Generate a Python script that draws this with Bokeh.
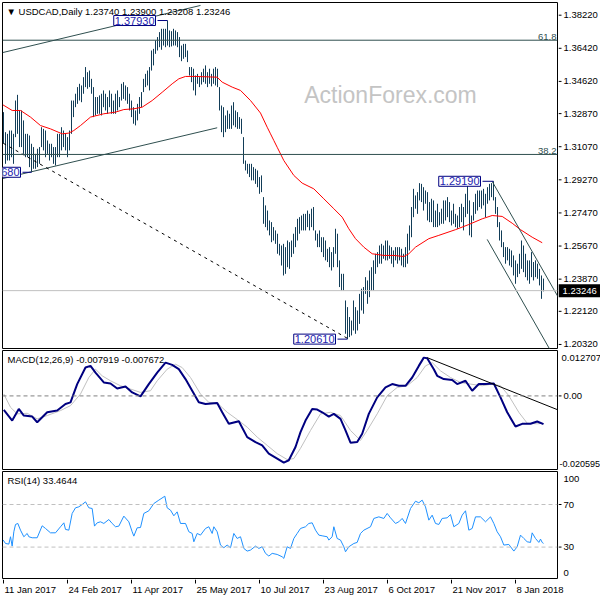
import pandas as pd
from bokeh.plotting import figure
from bokeh.layouts import column, row
from bokeh.models import Range1d, Span, Label, ColumnDataSource
from bokeh.core.properties import value
from bokeh.embed import file_html
from bokeh.resources import INLINE

# ---------------- data ----------------
header_text = "\u25bc USDCAD,Daily  1.23740 1.23900 1.23208 1.23246"
macd_text = "MACD(12,26,9) -0.007919 -0.007672"
rsi_text = "RSI(14) 33.4644"
last_close = 1.23246

bar_high = [
    1.3295, 1.3186, 1.3177, 1.3195, 1.3195, 1.3177, 1.3358, 1.3389, 1.3304, 1.3304,
    1.3250, 1.3177, 1.3177, 1.3168, 1.3123, 1.3105, 1.3068, 1.3096, 1.3105, 1.3213,
    1.3204, 1.3195, 1.3141, 1.3123, 1.3123, 1.3105, 1.3105, 1.3177, 1.3177, 1.3213,
    1.3195, 1.3177, 1.3159, 1.3195, 1.3358, 1.3358, 1.3395, 1.3431, 1.3449, 1.3440,
    1.3485, 1.3540, 1.3512, 1.3521, 1.3476, 1.3431, 1.3377, 1.3377, 1.3386, 1.3395,
    1.3413, 1.3395, 1.3377, 1.3413, 1.3395, 1.3358, 1.3395, 1.3413, 1.3377, 1.3449,
    1.3458, 1.3440, 1.3431, 1.3395, 1.3358, 1.3322, 1.3304, 1.3340, 1.3377, 1.3404,
    1.3476, 1.3503, 1.3521, 1.3540, 1.3630, 1.3639, 1.3685, 1.3703, 1.3730, 1.3748,
    1.3748, 1.3748, 1.3793, 1.3739, 1.3735, 1.3748, 1.3739, 1.3730, 1.3703, 1.3657,
    1.3666, 1.3666, 1.3630, 1.3540, 1.3540, 1.3531, 1.3494, 1.3503, 1.3485, 1.3512,
    1.3531, 1.3549, 1.3512, 1.3531, 1.3503, 1.3531, 1.3540, 1.3531, 1.3431, 1.3331,
    1.3322, 1.3277, 1.3304, 1.3286, 1.3331, 1.3349, 1.3304, 1.3295, 1.3268, 1.3259,
    1.3159, 1.3032, 1.3014, 1.3014, 1.3014, 1.2996, 1.2987, 1.2978, 1.2942, 1.2951,
    1.2833, 1.2788, 1.2760, 1.2706, 1.2697, 1.2670, 1.2652, 1.2634, 1.2579, 1.2570,
    1.2579, 1.2561, 1.2597, 1.2588, 1.2597, 1.2634, 1.2670, 1.2715, 1.2724, 1.2733,
    1.2742, 1.2742, 1.2760, 1.2742, 1.2770, 1.2779, 1.2652, 1.2634, 1.2652, 1.2615,
    1.2615, 1.2597, 1.2552, 1.2561, 1.2534, 1.2561, 1.2661, 1.2634, 1.2489, 1.2416,
    1.2416, 1.2271, 1.2235, 1.2181, 1.2162, 1.2271, 1.2235, 1.2217, 1.2307, 1.2335,
    1.2344, 1.2398, 1.2380, 1.2434, 1.2452, 1.2489, 1.2525, 1.2534, 1.2570, 1.2579,
    1.2570, 1.2597, 1.2597, 1.2570, 1.2561, 1.2543, 1.2561, 1.2561, 1.2561, 1.2552,
    1.2525, 1.2561, 1.2634, 1.2679, 1.2779, 1.2878, 1.2842, 1.2860, 1.2909, 1.2905,
    1.2887, 1.2869, 1.2860, 1.2806, 1.2824, 1.2815, 1.2760, 1.2797, 1.2751, 1.2770,
    1.2815, 1.2815, 1.2833, 1.2806, 1.2760, 1.2797, 1.2742, 1.2733, 1.2779, 1.2797,
    1.2779, 1.2851, 1.2909, 1.2815, 1.2733, 1.2806, 1.2851, 1.2869, 1.2869, 1.2869,
    1.2878, 1.2851, 1.2887, 1.2905, 1.2909, 1.2919, 1.2833, 1.2779, 1.2697, 1.2652,
    1.2588, 1.2561, 1.2561, 1.2552, 1.2543, 1.2516, 1.2489, 1.2471, 1.2525, 1.2597,
    1.2570, 1.2525, 1.2489, 1.2489, 1.2534, 1.2480, 1.2489, 1.2471, 1.2443, 1.2407,
    1.2390,
]
bar_low = [
    1.3123, 1.3014, 1.3032, 1.3032, 1.3050, 1.3014, 1.3159, 1.3177, 1.3105, 1.3105,
    1.3068, 1.3050, 1.3050, 1.2996, 1.2968, 1.2987, 1.2987, 1.2996, 1.3014, 1.3105,
    1.3087, 1.3050, 1.3068, 1.3032, 1.3050, 1.3014, 1.3005, 1.3050, 1.3050, 1.3087,
    1.3105, 1.3087, 1.3050, 1.3087, 1.3177, 1.3268, 1.3322, 1.3340, 1.3358, 1.3349,
    1.3395, 1.3431, 1.3422, 1.3431, 1.3395, 1.3268, 1.3277, 1.3286, 1.3286, 1.3277,
    1.3322, 1.3304, 1.3286, 1.3322, 1.3286, 1.3286, 1.3286, 1.3304, 1.3322, 1.3358,
    1.3367, 1.3358, 1.3340, 1.3304, 1.3268, 1.3232, 1.3223, 1.3250, 1.3286, 1.3322,
    1.3404, 1.3431, 1.3440, 1.3413, 1.3521, 1.3549, 1.3612, 1.3630, 1.3648, 1.3634,
    1.3657, 1.3648, 1.3657, 1.3648, 1.3652, 1.3657, 1.3657, 1.3648, 1.3594, 1.3572,
    1.3585, 1.3594, 1.3567, 1.3494, 1.3458, 1.3413, 1.3386, 1.3449, 1.3431, 1.3445,
    1.3458, 1.3449, 1.3431, 1.3449, 1.3435, 1.3449, 1.3440, 1.3431, 1.3304, 1.3186,
    1.3159, 1.3186, 1.3204, 1.3204, 1.3204, 1.3223, 1.3213, 1.3204, 1.3204, 1.3177,
    1.3014, 1.2978, 1.2960, 1.2942, 1.2924, 1.2924, 1.2905, 1.2887, 1.2851, 1.2860,
    1.2688, 1.2670, 1.2652, 1.2625, 1.2588, 1.2597, 1.2579, 1.2525, 1.2516, 1.2461,
    1.2407, 1.2416, 1.2452, 1.2443, 1.2507, 1.2525, 1.2561, 1.2597, 1.2634, 1.2652,
    1.2652, 1.2652, 1.2670, 1.2652, 1.2670, 1.2652, 1.2597, 1.2561, 1.2561, 1.2534,
    1.2507, 1.2489, 1.2480, 1.2452, 1.2434, 1.2452, 1.2525, 1.2452, 1.2344, 1.2326,
    1.2326, 1.2090, 1.2061, 1.2072, 1.2081, 1.2108, 1.2090, 1.2108, 1.2144, 1.2217,
    1.2199, 1.2307, 1.2253, 1.2289, 1.2326, 1.2326, 1.2416, 1.2452, 1.2471, 1.2471,
    1.2498, 1.2489, 1.2489, 1.2498, 1.2471, 1.2452, 1.2489, 1.2471, 1.2489, 1.2461,
    1.2452, 1.2452, 1.2471, 1.2543, 1.2615, 1.2724, 1.2770, 1.2742, 1.2815, 1.2806,
    1.2760, 1.2797, 1.2706, 1.2697, 1.2697, 1.2670, 1.2670, 1.2670, 1.2679, 1.2688,
    1.2688, 1.2706, 1.2724, 1.2697, 1.2679, 1.2688, 1.2670, 1.2661, 1.2670, 1.2697,
    1.2652, 1.2724, 1.2742, 1.2625, 1.2615, 1.2706, 1.2742, 1.2760, 1.2779, 1.2770,
    1.2788, 1.2724, 1.2797, 1.2815, 1.2833, 1.2815, 1.2742, 1.2670, 1.2597, 1.2561,
    1.2507, 1.2471, 1.2489, 1.2461, 1.2452, 1.2407, 1.2362, 1.2398, 1.2416, 1.2443,
    1.2425, 1.2398, 1.2380, 1.2362, 1.2398, 1.2380, 1.2398, 1.2389, 1.2353, 1.2280,
    1.23208,
]

# moving average (red line), read at bar positions
ma_x = [-0.35, 4.35, 8.5, 13.5, 18.5, 23.5, 29.35, 32.65, 35.15, 38.5, 43.5, 50.15,
        56, 60.15, 65.15, 69.35, 74.35, 79.35, 84.35, 87.65, 91, 96, 106.85, 109.35,
        114.35, 118.5, 123.5, 128.5, 131.85, 133.5, 135.15, 136.85, 140.15, 145.15,
        149.35, 155.15, 160.15, 165.15, 169.35, 172.65, 176, 180.15, 184.35, 190.15,
        195.15, 200.15, 202.65, 206, 212.65, 217.65, 226, 232.65, 239.35, 244.35,
        249.35, 254.35, 258.5, 264.35, 269.35]
ma_v = [1.3335, 1.3304, 1.3304, 1.3268, 1.3222, 1.3204, 1.3177, 1.3181, 1.3195, 1.3222,
        1.3268, 1.3286, 1.3295, 1.3309, 1.3313, 1.3322, 1.3358, 1.3403, 1.3449, 1.3476,
        1.3489, 1.3489, 1.3485, 1.3458, 1.3431, 1.3413, 1.3358, 1.3290, 1.3213, 1.3177,
        1.3141, 1.3104, 1.3032, 1.2951, 1.2909, 1.2878, 1.2824, 1.2770, 1.2724, 1.2661,
        1.2607, 1.2561, 1.2525, 1.2516, 1.2516, 1.2510, 1.2525, 1.2561, 1.2607, 1.2625,
        1.2656, 1.2684, 1.2715, 1.2733, 1.2728, 1.2691, 1.2656, 1.2615, 1.2585]

macd_x = [0.15, 4.35, 7.65, 10.15, 14.35, 16.85, 19.35, 21.85, 26.85, 31, 33.5, 36.85,
          41, 43.5, 46, 50.15, 53.5, 56.85, 61, 64.35, 68.5, 72.65, 76.85, 81, 84.35,
          87.65, 91, 94.35, 97.65, 101, 106.85, 109.35, 112.65, 117.65, 121.85, 126,
          129.35, 132.65, 136.85, 140.15, 142.65, 146, 148.5, 151, 154.35, 156.85,
          159.35, 162.65, 165.15, 168.5, 171, 173.5, 176.85, 179.35, 182.65, 186.85,
          191, 194.35, 197.65, 201, 204.35, 207.65, 210.15, 211.85, 215.15, 216.85,
          220.15, 224.35, 226.85, 231, 234.35, 237.65, 241, 245.15, 248.5, 251.85,
          256, 259.35, 263.5, 266.85, 270]
macd_v = [-0.00392, -0.00689, -0.00364, -0.0055, -0.00578, -0.00737, -0.00597, -0.00458,
          -0.00411, -0.00225, -0.0018, 0.00331, 0.00793, 0.0084, 0.00654, 0.00376,
          0.00348, 0.00209, 0.00265, 0.00098, -0.00013, 0.00331, 0.00654, 0.00932,
          0.00868, 0.00748, 0.0047, 0.00145, -0.0018, -0.00225, -0.00197, -0.00458,
          -0.00781, -0.00708, -0.01153, -0.01292, -0.01384, -0.01615, -0.01754,
          -0.01865, -0.01801, -0.01431, -0.01014, -0.00689, -0.00364, -0.00383,
          -0.00458, -0.00578, -0.00503, -0.00642, -0.00967, -0.01309, -0.01292,
          -0.01059, -0.00503, -0.00041, 0.00237, 0.00331, 0.00284, 0.00284, 0.00515,
          0.0084, 0.01071, 0.01054, 0.00748, 0.00562, 0.0047, 0.00443, 0.00331,
          0.00423, 0.00145, 0.00331, 0.00331, 0.00348, -0.00041, -0.00458, -0.00856,
          -0.00781, -0.00781, -0.00717, -0.007919]

signal_x = [0.15, 3.5, 6.85, 11.85, 16.85, 21.85, 28.5, 33.5, 38.5, 42.65, 46, 49.35,
            53.5, 58.5, 63.5, 68.5, 73.5, 76.85, 81.85, 86, 89.35, 93.5, 98.5, 102.65,
            106.85, 111.85, 116.85, 121.85, 126.85, 131.85, 136.85, 141.85, 145.15,
            148.5, 153.5, 158.5, 163.5, 168.5, 173.5, 178.5, 181.85, 186.85, 191.85,
            196.85, 201.85, 206.85, 211, 214.35, 218.5, 223.5, 228.5, 233.5, 239.35,
            244.35, 248.5, 252.65, 257.65, 261.85, 266.85, 270]
signal_v = [0.00053, -0.00319, -0.00503, -0.00486, -0.00642, -0.0055, -0.00411, -0.00272,
            0.00053, 0.00515, 0.00748, 0.00562, 0.00423, 0.00284, 0.00192, 0.00098,
            0.00145, 0.00423, 0.00748, 0.00887, 0.00793, 0.00515, 0.00053, -0.0018,
            -0.00197, -0.00458, -0.00661, -0.00875, -0.01153, -0.01384, -0.01615,
            -0.01781, -0.01754, -0.01467, -0.00967, -0.00503, -0.00458, -0.0055,
            -0.00967, -0.01245, -0.00967, -0.00503, 0.00006, 0.00237, 0.00284, 0.00515,
            0.0084, 0.00932, 0.00701, 0.00515, 0.00376, 0.00331, 0.00284, 0.00331,
            0.00284, 0.00006, -0.00458, -0.00764, -0.00781, -0.007672]

rsi_x = [-0.17, 1.0, 2.67, 3.5, 4.33, 5.17, 6.0, 7.17, 8.5, 10.17, 11.83, 12.67, 14.33,
         16.83, 19.33, 21.0, 23.5, 26.0, 28.5, 30.17, 31.0, 32.67, 34.33, 36.0, 37.67,
         39.33, 41.0, 42.67, 44.33, 45.5, 46.83, 48.5, 50.17, 52.67, 54.33, 56.0, 57.67,
         60.17, 62.67, 64.33, 65.17, 66.83, 68.5, 70.17, 72.67, 75.17, 77.67, 80.67,
         81.83, 83.5, 85.17, 86.83, 88.5, 91.0, 92.67, 94.33, 95.17, 96.83, 98.5, 101.0,
         102.67, 104.33, 105.17, 106.83, 108.5, 110.17, 111.83, 113.5, 115.17, 116.83,
         118.5, 120.17, 121.83, 123.5, 126.0, 127.67, 129.33, 131.0, 132.67, 134.33,
         136.83, 139.33, 140.17, 141.83, 143.5, 145.17, 146.83, 148.5, 151.0, 152.67,
         154.33, 156.0, 157.67, 159.33, 161.83, 162.67, 164.33, 165.17, 166.83, 168.5,
         170.17, 171.0, 172.67, 175.17, 176.83, 178.5, 180.17, 183.5, 185.17, 187.67,
         190.17, 191.83, 193.5, 196.0, 197.67, 199.33, 201.0, 203.5, 206.0, 207.67,
         209.33, 211.0, 212.67, 214.33, 216.0, 217.67, 219.33, 221.83, 223.5, 225.17,
         227.67, 229.33, 231.0, 232.67, 234.33, 236.0, 238.5, 241.0, 243.5, 245.17,
         246.83, 248.5, 250.17, 252.67, 255.17, 256.83, 258.5, 260.17, 261.83, 263.5,
         264.33, 266.0, 267.67, 268.5, 269.33, 270]
rsi_v = [36.6, 33.4, 32.8, 39.7, 30.9, 44.4, 51.25, 52.2, 45.9, 39.7, 42.8, 39.7, 38.75,
         38.75, 50.0, 47.5, 43.4, 43.4, 49.1, 52.8, 46.6, 45.9, 61.6, 66.9, 67.8, 70.0,
         72.5, 66.9, 66.25, 49.7, 52.8, 53.75, 52.2, 55.9, 52.2, 49.1, 49.7, 59.1, 53.75,
         44.4, 40.3, 48.1, 48.4, 61.6, 64.1, 70.9, 74.1, 77.8, 66.9, 64.7, 59.4, 63.1,
         52.2, 52.2, 44.4, 42.8, 35.0, 42.8, 41.25, 47.5, 49.1, 42.8, 49.1, 44.4, 31.9,
         29.4, 31.9, 29.4, 42.8, 38.1, 39.7, 28.75, 26.25, 27.2, 30.9, 28.75, 30.3, 24.1,
         21.6, 24.1, 23.1, 20.9, 19.4, 30.3, 28.75, 38.1, 42.8, 47.5, 49.1, 52.2, 52.8,
         45.9, 41.25, 40.6, 39.7, 36.6, 39.7, 49.1, 38.1, 36.6, 30.3, 25.6, 30.3, 33.4,
         34.4, 42.8, 45.9, 49.1, 56.9, 58.4, 56.9, 61.6, 57.5, 52.2, 53.75, 56.9, 52.2,
         66.25, 73.1, 71.6, 74.1, 67.8, 55.3, 60.0, 52.2, 51.25, 56.9, 57.5, 60.6, 49.1,
         52.2, 60.0, 64.1, 45.9, 47.5, 58.4, 58.4, 53.75, 58.4, 52.2, 44.4, 39.7, 31.9,
         32.5, 26.25, 30.3, 41.25, 38.1, 35.0, 34.4, 43.4, 38.1, 34.4, 37.5, 34.4, 33.4644]

# annotations drawn on the chart
fibo_levels = [1.3686, 1.3065]
fibo_names = ["61.8", "38.2"]
swing_text = ["1.37930", "1.29190", "1.20610", "1.29680"]
swing_price = [1.3793, 1.2919, 1.2061, 1.2968]
swing_bar = [82, 245, 172, 14]
swing_box_end = [77, 239.5, 167, 9.5]
trend_solid = [((-0.35, 1.3619), (98.5, 1.3875)),
               ((-0.35, 1.2934), (106.85, 1.3210)),
               ((244.3, 1.2919), (279.0, 1.2258)),
               ((241.85, 1.2603), (275.0, 1.1970))]
trend_dashed = ((0.0, 1.3125), (172.0, 1.2065))
macd_trend = ((211.85, 0.0107), (279.0, -0.00431))

price_ticks = [1.3822, 1.3642, 1.3462, 1.3287, 1.3107, 1.2927, 1.2747, 1.2567,
               1.2387, 1.2212, 1.2032]
macd_max, macd_min = 0.012707, -0.020595
rsi_levels = [70, 30]
date_ticks = ["2017-01-11", "2017-02-24", "2017-04-11", "2017-05-25", "2017-07-10",
              "2017-08-23", "2017-10-06", "2017-11-21", "2018-01-08"]

# trading calendar (MT4 has no bars on 25 Dec / 1 Jan)
days = [d for d in pd.bdate_range("2017-01-11", "2018-01-26")
        if not (d.month == 12 and d.day == 25) and not (d.month == 1 and d.day == 1)]
day_index = {d.strftime("%Y-%m-%d"): i for i, d in enumerate(days)}
tick_idx = [day_index[t] for t in date_ticks]
tick_lbl = [f"{pd.Timestamp(t).day} {pd.Timestamp(t).strftime('%b %Y')}" for t in date_ticks]

# ---------------- styling ----------------
FONT = "Liberation Sans"
FS = "9.5px"
BAR = "#123d58"
TREND = "#2f4f4f"

PX_PER_BAR = 2
MAIN_W, AXIS_W, TOTAL_W = 558, 42, 600
FRAME_W = MAIN_W - 3
X_START = -0.5
X_END = X_START + FRAME_W / PX_PER_BAR
PRICE_MIN, PRICE_MAX = 1.2010, 1.3891
xr = Range1d(X_START, X_END)


def inset(rng, frame_h, px):
    """data value lying px pixels inside the range end (px>0: below top, px<0: above bottom)"""
    span = rng.end - rng.start
    if px >= 0:
        return rng.end - px * span / frame_h
    return rng.start - px * span / frame_h


def panel(height, y_range, top, bottom):
    p = figure(width=MAIN_W, height=height, x_range=xr, y_range=y_range,
               output_backend="svg", toolbar_location=None,
               x_axis_location=None, y_axis_location=None,
               min_border_left=2, min_border_right=1, min_border_top=top,
               min_border_bottom=bottom)
    p.grid.visible = False
    p.outline_line_color = "black"
    p.background_fill_color = "white"
    p.border_fill_color = "white"
    return p


def scale(height, y_range, top, bottom):
    a = figure(width=AXIS_W, height=height, x_range=Range1d(0, AXIS_W), y_range=y_range,
               output_backend="svg", toolbar_location=None,
               x_axis_location=None, y_axis_location=None,
               min_border_left=0, min_border_right=0, min_border_top=top,
               min_border_bottom=bottom)
    a.grid.visible = False
    a.outline_line_color = None
    a.background_fill_color = "white"
    a.border_fill_color = "white"
    return a


def ticks(a, vals, labels, marks=True, x=5, size=FS):
    if marks:
        a.segment(x0=0, x1=3, y0=vals, y1=vals, line_color="black", line_width=1)
    a.text(x=[x] * len(vals), y=vals, text=labels, text_font=value(FONT),
           text_font_size=value(size), text_color="black", text_baseline="middle")


def txt(p, x, y, text, **kw):
    opts = dict(text_font=FONT, text_font_size=FS, text_color="black",
                text_baseline="middle")
    opts.update(kw)
    p.add_layout(Label(x=x, y=y, text=text, **opts))


# ---------- main price panel ----------
H1, T1, B1 = 349, 2, 1
FH1 = H1 - T1 - B1
yr1 = Range1d(PRICE_MIN, PRICE_MAX)
p1 = panel(H1, yr1, T1, B1)
a1 = scale(H1, yr1, T1, B1)

txt(p1, 193.5, 1.3386, "ActionForex.com", text_align="center",
    text_font_size="23px", text_color="#c4c4c4")

for lvl, name in zip(fibo_levels, fibo_names):
    p1.add_layout(Span(location=lvl, dimension="width", line_color=TREND, line_width=1))
    txt(p1, X_END, lvl, name, text_align="right", text_baseline="bottom",
        x_offset=-1, text_color=TREND)

p1.add_layout(Span(location=last_close, dimension="width", line_color="#c0c0c0",
                   line_width=1))

bars = ColumnDataSource(dict(i=list(range(len(bar_high))), hi=bar_high, lo=bar_low))
p1.segment(x0="i", y0="lo", x1="i", y1="hi", source=bars, line_color=BAR, line_width=1)
p1.line(ma_x, ma_v, line_color="#ff0000", line_width=1)

for (a, b) in trend_solid:
    p1.line([a[0], b[0]], [a[1], b[1]], line_color=TREND, line_width=1)
p1.line([trend_dashed[0][0], trend_dashed[1][0]], [trend_dashed[0][1], trend_dashed[1][1]],
        line_color="black", line_width=1, line_dash="3 4")

for t, pr, b, e in zip(swing_text, swing_price, swing_bar, swing_box_end):
    p1.line([e, b], [pr, pr], line_color="#000080", line_width=1)
    txt(p1, e, pr, t, text_align="right", x_offset=-2,
        text_color="#2424b0", text_font_size="11px", background_fill_color="white",
        border_line_color="#000080", border_line_width=1, padding=1)

txt(p1, X_START, inset(yr1, FH1, 9), header_text, x_offset=4)

ticks(a1, price_ticks, [f"{v:.5f}" for v in price_ticks])
a1.rect(x=[AXIS_W / 2], y=[last_close], width=AXIS_W, height=13, height_units="screen",
        fill_color="black", line_color=None)
a1.text(x=[4], y=[last_close], text=[f"{last_close:.5f}"], text_font=value(FONT),
        text_font_size=value(FS), text_color="white", text_baseline="middle")

# ---------- MACD panel ----------
H2, T2, B2 = 121, 1, 1
FH2 = H2 - T2 - B2
yr2 = Range1d(macd_min, macd_max)
p2 = panel(H2, yr2, T2, B2)
a2 = scale(H2, yr2, T2, B2)
p2.add_layout(Span(location=0.0, dimension="width", line_color="#808080",
                   line_width=1, line_dash="4 3"))
p2.line(signal_x, signal_v, line_color="#c0c0c0", line_width=1)
p2.line(macd_x, macd_v, line_color="#000080", line_width=2)
p2.line([macd_trend[0][0], macd_trend[1][0]], [macd_trend[0][1], macd_trend[1][1]],
        line_color="black", line_width=1)
txt(p2, X_START, inset(yr2, FH2, 8.5), macd_text, x_offset=5)
ticks(a2, [0.0], ["0.00"])
ticks(a2, [inset(yr2, FH2, 7)], [f"{macd_max:.6f}"], marks=False, x=3)
ticks(a2, [inset(yr2, FH2, -6)], [f"{macd_min:.6f}"], marks=False, x=1, size="9px")

# ---------- RSI panel ----------
H3, T3, B3 = 109, 1, 1
FH3 = H3 - T3 - B3
yr3 = Range1d(0.5, 101)
p3 = panel(H3, yr3, T3, B3)
a3 = scale(H3, yr3, T3, B3)
for lvl in rsi_levels:
    p3.add_layout(Span(location=lvl, dimension="width", line_color="#c0c0c0",
                       line_width=1, line_dash="4 3"))
p3.line(rsi_x, rsi_v, line_color="#1e90ff", line_width=1)
txt(p3, X_START, inset(yr3, FH3, 9), rsi_text, x_offset=5)
ticks(a3, rsi_levels, [str(v) for v in rsi_levels])
ticks(a3, [inset(yr3, FH3, 7), inset(yr3, FH3, -6)], ["100", "0"], marks=False)

# ---------- date strip ----------
STRIP_H = 21
ds = figure(width=TOTAL_W, height=STRIP_H,
            x_range=Range1d(X_START, X_START + (TOTAL_W - 2) / PX_PER_BAR),
            y_range=Range1d(STRIP_H, 0), output_backend="svg", toolbar_location=None,
            x_axis_location=None, y_axis_location=None, min_border_left=2,
            min_border_right=0, min_border_top=0, min_border_bottom=0)
ds.grid.visible = False
ds.outline_line_color = None
ds.border_fill_color = "white"
ds.segment(x0=tick_idx, x1=tick_idx, y0=[0] * len(tick_idx), y1=[4] * len(tick_idx),
           line_color="black", line_width=1)
ds.text(x=tick_idx, y=[10] * len(tick_idx), text=tick_lbl, text_font=value(FONT),
        text_font_size=value(FS), text_baseline="middle", text_align="left", x_offset=1)

layout = column(row(p1, a1, spacing=0), row(p2, a2, spacing=0),
                row(p3, a3, spacing=0), ds, spacing=0)
open("out.html", "w").write(file_html(layout, INLINE))
